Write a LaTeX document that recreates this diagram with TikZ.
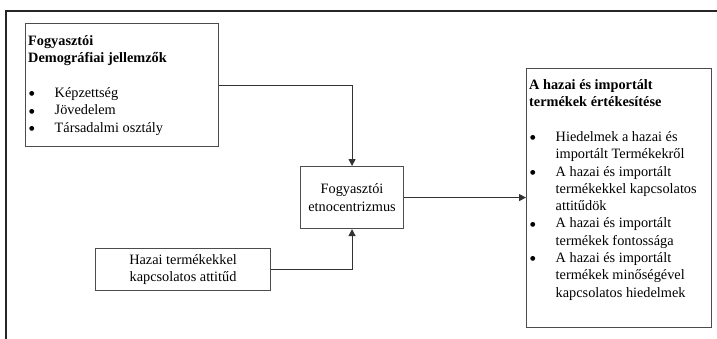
\documentclass[tikz,border=0pt]{standalone}
\usepackage{fontspec}
\setmainfont{Liberation Serif}
\newfontfamily\dejavu{DejaVu Sans}
\usetikzlibrary{arrows.meta}
\newcommand{\bli}{\makebox[26.5pt][l]{\hspace{1pt}\raisebox{1.6pt}{\dejavu\fontsize{6.3}{7}\selectfont ●}}}
\newcommand{\indt}{\hspace*{26.5pt}}
\newcommand{\fs}{\fontsize{14.3}{17.3}\selectfont}
\begin{document}
\begin{tikzpicture}[x=1pt,y=-1pt,
  box/.style={draw=black!70, line width=1.1pt, inner sep=0pt},
  txt/.style={inner sep=0pt, text=black, font=\fs},
  frame/.style={draw=black!85, line width=1.3pt},
  conn/.style={draw=black!80, line width=1.1pt},
  arr/.style={conn, -{Triangle[length=7pt,width=7pt]}}]
\useasboundingbox (0,0) rectangle (717,338);
\coordinate (fbl) at (6,340);
\coordinate (ftl) at (6,11);
\coordinate (ftr) at (719,11);
\draw[frame] (fbl) -- (ftl) -- (ftr);
% boxes
\node[box, minimum width=193, minimum height=123, anchor=north west] (demo) at (25,23) {};
\node[box, minimum width=103, minimum height=62, anchor=north west, font=\fs, align=center] (etno) at (300,166) {Fogyasztói\\etnocentrizmus};
\node[box, minimum width=175, minimum height=42, anchor=north west, font=\fs, align=center] (hazai) at (95,248) {Hazai termékekkel\\kapcsolatos attitűd};
\node[box, minimum width=185, minimum height=259, anchor=north west] (ert) at (526,68) {};
% texts
\node[txt, anchor=base west] (demotxt) at (28,45.5) {\parbox[t]{185pt}{\fs
\textbf{Fogyasztói}\\
\textbf{Demográfiai jellemzők}\\
\mbox{}\\
\bli Képzettség\\
\bli Jövedelem\\
\bli Társadalmi osztály}};
\node[txt, anchor=base west] (erttxt) at (529,89.5) {\parbox[t]{180pt}{\fs
\textbf{A hazai és importált}\\
\textbf{termékek értékesítése}\\
\mbox{}\\
\bli Hiedelmek a hazai és\\
\indt importált Termékekről\\
\bli A hazai és importált\\
\indt termékekkel kapcsolatos\\
\indt attitűdök\\
\bli A hazai és importált\\
\indt termékek fontossága\\
\bli A hazai és importált\\
\indt termékek minőségével\\
\indt kapcsolatos hiedelmek}};
% connectors
\draw[arr] (demo.east) -| (etno.north);
\draw[arr] (hazai.east) -| (etno.south);
\draw[arr] (etno.east) -- (etno.east -| ert.west);
\end{tikzpicture}
\end{document}
